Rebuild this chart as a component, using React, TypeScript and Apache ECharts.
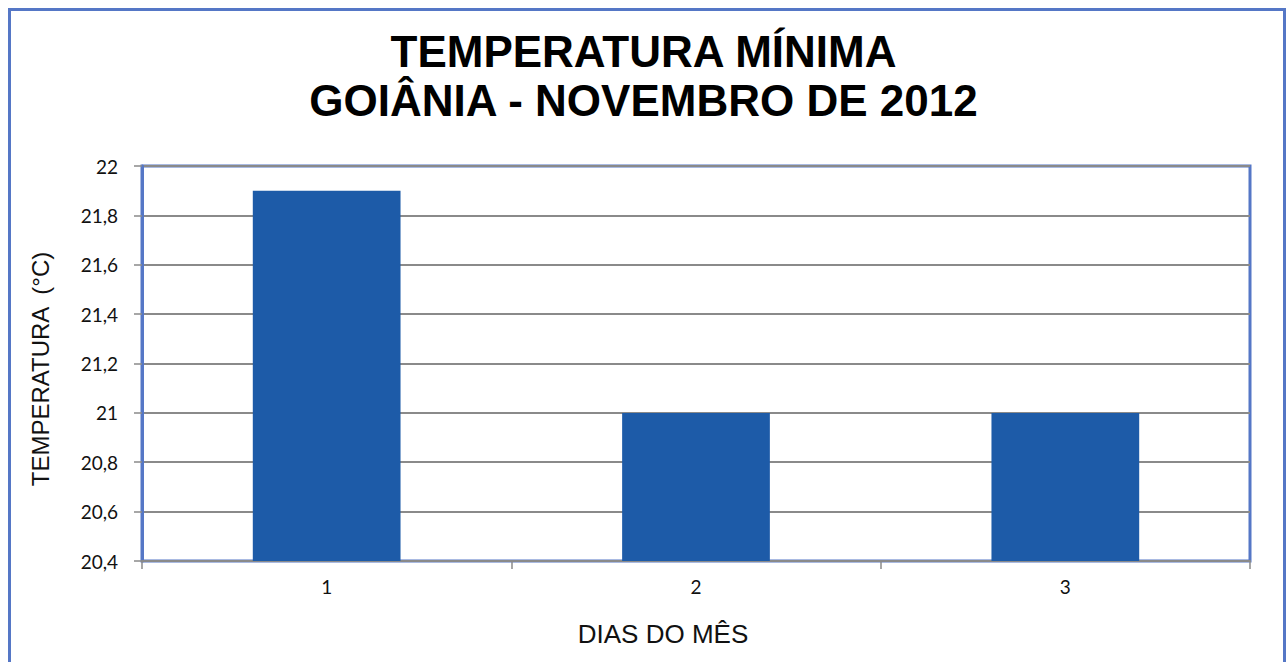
import React, { useEffect, useRef } from "react";
import * as echarts from "echarts";

const titleLines = ["TEMPERATURA MÍNIMA", "GOIÂNIA - NOVEMBRO DE 2012"];
const categories = ["1", "2", "3"];
const temperatures = [21.9, 21.0, 21.0];
const yMin = 20.4;
const yMax = 22;
const yStep = 0.2;
const yAxisName = "TEMPERATURA  (°C)";
const xAxisName = "DIAS DO MÊS";

export default function App() {
  const ref = useRef<HTMLDivElement>(null);
  useEffect(() => {
    if (!ref.current) return;
    const chart = echarts.init(ref.current, undefined, { renderer: "svg" });
    const blue = "#5577c6";
    const gray = "#8a8a8a";
    chart.setOption({
      animation: false,
      backgroundColor: "#ffffff",
      title: {
        text: titleLines.join("\n"),
        left: "center",
        top: 22,
        textStyle: {
          fontFamily: "Liberation Sans, Arial, sans-serif",
          fontWeight: "bold",
          fontSize: 44,
          lineHeight: 49,
          color: "#000000",
        },
      },
      graphic: [
        {
          type: "rect",
          shape: { x: 9.5, y: 9.5, width: 1275, height: 700 },
          style: { fill: "none", stroke: blue, lineWidth: 3 },
          silent: true,
          z: 0,
        },
        {
          type: "text",
          x: 40,
          y: 369,
          rotation: Math.PI / 2,
          style: {
            text: yAxisName,
            fontFamily: "Liberation Sans, Arial, sans-serif",
            fontSize: 24,
            fill: "#111111",
            textAlign: "center",
            textVerticalAlign: "middle",
          },
        },
        {
          type: "text",
          x: 663,
          y: 634,
          style: {
            text: xAxisName,
            fontFamily: "Liberation Sans, Arial, sans-serif",
            fontSize: 26,
            fill: "#111111",
            textAlign: "center",
            textVerticalAlign: "middle",
          },
        },
      ],
      grid: {
        left: 142,
        top: 166,
        right: 37,
        bottom: 101,
        show: true,
        borderColor: blue,
        borderWidth: 3,
        backgroundColor: "#ffffff",
      },
      xAxis: {
        type: "category",
        data: categories,
        axisLine: { show: true, lineStyle: { color: gray, width: 2 } },
        axisTick: { show: true, length: 8, lineStyle: { color: gray, width: 1.5 } },
        axisLabel: {
          fontFamily: "Lato, sans-serif",
          fontSize: 19,
          color: "#111111",
          margin: 16,
        },
        splitLine: { show: false },
      },
      yAxis: {
        type: "value",
        min: yMin,
        max: yMax,
        interval: yStep,
        axisLine: { show: true, lineStyle: { color: blue, width: 3 } },
        axisTick: { show: true, length: 8, lineStyle: { color: gray, width: 1.5 } },
        axisLabel: {
          fontFamily: "Lato, sans-serif",
          fontSize: 19,
          color: "#111111",
          margin: 24,
          formatter: (v: number) => String(Math.round(v * 10) / 10).replace(".", ","),
        },
        splitLine: { show: true, lineStyle: { color: gray, width: 2 } },
      },
      series: [
        {
          type: "bar",
          data: temperatures,
          barWidth: "40%",
          itemStyle: { color: "#1d5ba8" },
          z: 3,
        },
      ],
    });
    return () => chart.dispose();
  }, []);
  return (
    <div
      ref={ref}
      style={{ position: "absolute", left: 0, top: 0, width: 1287, height: 662 }}
    />
  );
}
